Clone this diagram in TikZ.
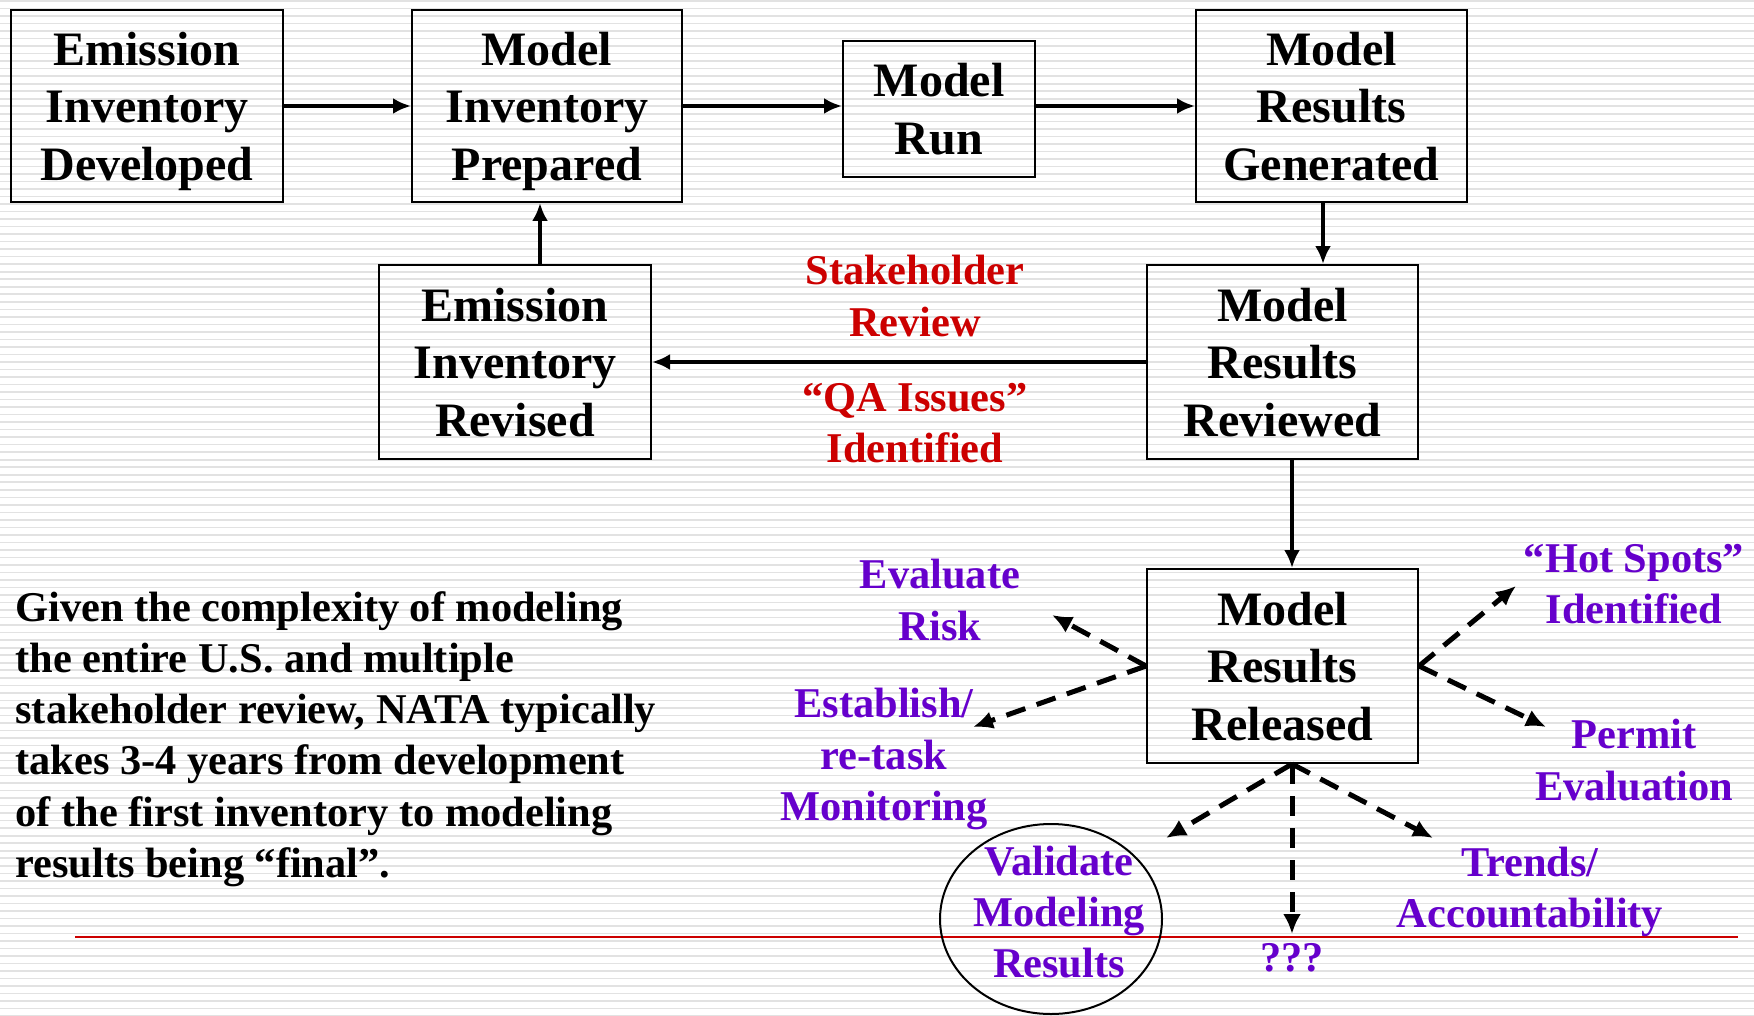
\documentclass[tikz,border=0pt]{standalone}
\usepackage{fontspec}
\setmainfont{Liberation Serif}
\usetikzlibrary{arrows.meta,shapes.geometric,calc}
\definecolor{myred}{RGB}{204,0,0}
\definecolor{mypurple}{RGB}{102,0,204}
\definecolor{stripecol}{RGB}{226,226,226}
\newcommand\boxfont{\fontsize{24}{28.8}\selectfont\bfseries}
\newcommand\labfont{\fontsize{21.2}{25.6}\selectfont\bfseries}
\tikzset{
  procbox/.style={draw=black,line width=1pt,inner sep=0pt,align=center,font=\boxfont,
    minimum width=136pt,minimum height=96pt,text depth=0pt},
  redlab/.style={text=myred,align=center,font=\labfont,inner sep=0pt},
  purplab/.style={text=mypurple,align=center,font=\labfont,inner sep=0pt},
  solidarr/.style={line width=2pt,-{Latex[length=9pt,width=8pt]}},
  dasharr/.style={line width=2.5pt,dash pattern=on 10pt off 6pt,-{Latex[length=10pt,width=9pt]}},
}
\begin{document}
\begin{tikzpicture}[x=0.5pt,y=-0.5pt]
\useasboundingbox (0,0) rectangle (1754,1016);
\fill[white] (0,0) rectangle (1754,1016);
\foreach \i in {0,...,135} \draw[stripecol,line width=0.8pt] (0,1+7.52*\i) -- (1754,1+7.52*\i);
% red rule
\draw[myred,line width=0.6pt] (75,937) -- (1738,937);

% boxes
\node[procbox] (eid) at (147,106) {Emission\\Inventory\\Developed};
\node[procbox,minimum width=135pt] (mip) at (547,106) {Model\\Inventory\\Prepared};
\node[procbox,minimum width=96pt,minimum height=68pt] (mr) at (939,109) {Model\\Run};
\node[procbox,minimum width=135.5pt] (mrg) at (1331.5,106) {Model\\Results\\Generated};
\node[procbox,minimum height=97pt] (eir) at (515,362) {Emission\\Inventory\\Revised};
\node[procbox,minimum width=135.5pt,minimum height=97pt] (mrr) at (1282.5,362) {Model\\Results\\Reviewed};
\node[procbox,minimum width=135.5pt,minimum height=97pt] (mrl) at (1282.5,666) {Model\\Results\\Released};

% red labels
\node[redlab] (stk) at (915,296) {Stakeholder\\Review};
\node[redlab] (qa) at (915,423) {“QA Issues”\\Identified};

% purple labels
\node[purplab] (evr) at (940,600) {Evaluate\\Risk};
\node[purplab] (est) at (884,759) {Establish/\\re-task\\Monitoring};
\node[purplab] (hot) at (1634,584) {“Hot Spots”\\Identified};
\node[purplab] (per) at (1634,760) {Permit\\Evaluation};
\node[purplab] (trd) at (1530,892) {Trends/\\Accountability};
\node[purplab] (qqq) at (1292,958) {???};
\node[draw=black,line width=1pt,ellipse,minimum width=111pt,minimum height=95pt,inner sep=0pt] (vel) at (1051,919) {};
\node[purplab] (val) at (1059,912) {Validate\\Modeling\\Results};

% paragraph
\node[anchor=west,align=left,font=\labfont,inner sep=0pt] (para) at (15,739)
 {Given the complexity of modeling\\the entire U.S. and multiple\\stakeholder review, NATA typically\\takes 3-4 years from development\\of the first inventory to modeling\\results being “final”.};

% solid connectors
\draw[solidarr] (eid.east) -- (mip.west);
\draw[solidarr] (mip.east) -- (mip.east -| mr.west);
\draw[solidarr] (mr.east |- mip.east) -- (mrg.west);
\draw[solidarr] ([xshift=-4.25pt]mrg.south) -- ([xshift=20.25pt]mrr.north);
\draw[solidarr] (mrr.west) -- (eir.east);
\draw[solidarr] ([xshift=12.5pt]eir.north) -- ([xshift=-3.5pt]mip.south);
\draw[solidarr] ([xshift=4.75pt]mrr.south) -- ([xshift=4.75pt]mrl.north);

% dashed connectors
\coordinate (tevr) at (1052,615);
\coordinate (test) at (973,727);
\coordinate (thot) at (1516,586);
\coordinate (tper) at (1546,727);
\coordinate (tval) at (1166,838);
\coordinate (tqqq) at (1292,934);
\coordinate (ttrd) at (1433,838);
\coordinate (bs) at ([xshift=4.75pt]mrl.south);
\draw[dasharr] (mrl.west) -- (tevr);
\draw[dasharr] (mrl.west) -- (test);
\draw[dasharr] (mrl.east) -- (thot);
\draw[dasharr] (mrl.east) -- (tper);
\draw[dasharr] (bs) -- (tval);
\draw[dasharr] (bs) -- (tqqq);
\draw[dasharr] (bs) -- (ttrd);
\end{tikzpicture}
\end{document}
